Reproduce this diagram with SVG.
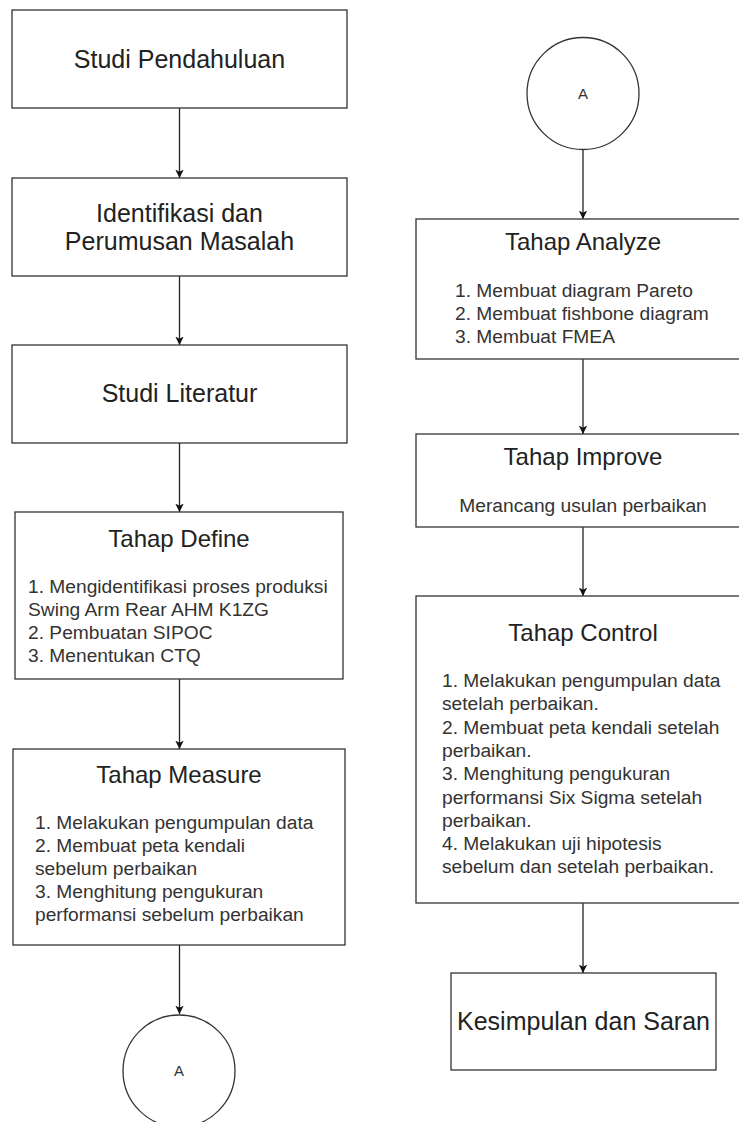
<svg xmlns="http://www.w3.org/2000/svg" width="739" height="1122" viewBox="0 0 739 1122">
<defs>
<style>
.box{fill:#fff;stroke:#333;stroke-width:1.3}
.edge{fill:none;stroke:#222;stroke-width:1.3}
.big{font-family:"Liberation Sans",Arial,sans-serif;font-size:25px;fill:#222;text-anchor:middle}
.title{font-family:"Liberation Sans",Arial,sans-serif;font-size:24px;fill:#222;text-anchor:middle}
.list{font-family:"Liberation Sans",Arial,sans-serif;font-size:19.2px;fill:#333}
.mid{text-anchor:middle}
.small{font-family:"Liberation Sans",Arial,sans-serif;font-size:15px;fill:#333;text-anchor:middle}
</style>
<marker id="arr" viewBox="0 0 10 10" refX="10" refY="5" markerWidth="6.5" markerHeight="6.5" markerUnits="strokeWidth" orient="auto">
<path d="M0,0 L10,5 L0,10 L2.5,5 Z" fill="#111"/>
</marker>
</defs>
<rect width="739" height="1122" fill="#fff"/>
<g id="connectors">
<line class="edge" x1="179.5" y1="108" x2="179.5" y2="178" marker-end="url(#arr)"/>
<line class="edge" x1="179.5" y1="276" x2="179.5" y2="345" marker-end="url(#arr)"/>
<line class="edge" x1="179.5" y1="443" x2="179.5" y2="512" marker-end="url(#arr)"/>
<line class="edge" x1="179.5" y1="679" x2="179.5" y2="749" marker-end="url(#arr)"/>
<line class="edge" x1="179.5" y1="945" x2="179.5" y2="1014" marker-end="url(#arr)"/>
<line class="edge" x1="583" y1="150" x2="583" y2="219" marker-end="url(#arr)"/>
<line class="edge" x1="583" y1="359" x2="583" y2="434" marker-end="url(#arr)"/>
<line class="edge" x1="583" y1="527" x2="583" y2="596" marker-end="url(#arr)"/>
<line class="edge" x1="583" y1="903" x2="583" y2="973" marker-end="url(#arr)"/>
</g>
<g id="studi-pendahuluan">
<rect class="box" x="12" y="10" width="335" height="98"/>
<text class="big" x="179.5" y="68">Studi Pendahuluan</text>
</g>
<g id="identifikasi">
<rect class="box" x="12" y="178" width="335" height="98"/>
<text class="big" x="179.5" y="222">Identifikasi dan</text>
<text class="big" x="179.5" y="250">Perumusan Masalah</text>
</g>
<g id="studi-literatur">
<rect class="box" x="12" y="345" width="335" height="98"/>
<text class="big" x="179.5" y="402">Studi Literatur</text>
</g>
<g id="define">
<rect class="box" x="15" y="512" width="328" height="167"/>
<text class="title" x="179" y="547">Tahap Define</text>
<text class="list" x="28" y="593">1. Mengidentifikasi proses produksi</text>
<text class="list" x="28" y="616">Swing Arm Rear AHM K1ZG</text>
<text class="list" x="28" y="639">2. Pembuatan SIPOC</text>
<text class="list" x="28" y="662">3. Menentukan CTQ</text>
</g>
<g id="measure">
<rect class="box" x="13" y="749" width="332" height="196"/>
<text class="title" x="179" y="783">Tahap Measure</text>
<text class="list" x="35" y="829">1. Melakukan pengumpulan data</text>
<text class="list" x="35" y="852">2. Membuat peta kendali</text>
<text class="list" x="35" y="875">sebelum perbaikan</text>
<text class="list" x="35" y="898">3. Menghitung pengukuran</text>
<text class="list" x="35" y="921">performansi sebelum perbaikan</text>
</g>
<g id="connector-a-out">
<circle class="box" cx="179" cy="1071" r="56"/>
<text class="small" x="179" y="1075.5">A</text>
</g>
<g id="connector-a-in">
<circle class="box" cx="583" cy="93.5" r="56"/>
<text class="small" x="583" y="99">A</text>
</g>
<g id="analyze">
<rect class="box" x="416" y="219" width="334" height="140"/>
<text class="title" x="583" y="250">Tahap Analyze</text>
<text class="list" x="455" y="297">1. Membuat diagram Pareto</text>
<text class="list" x="455" y="320">2. Membuat fishbone diagram</text>
<text class="list" x="455" y="343">3. Membuat FMEA</text>
</g>
<g id="improve">
<rect class="box" x="416" y="434" width="334" height="93"/>
<text class="title" x="583" y="465">Tahap Improve</text>
<text class="list mid" x="583" y="512">Merancang usulan perbaikan</text>
</g>
<g id="control">
<rect class="box" x="416" y="596" width="334" height="307"/>
<text class="title" x="583" y="641">Tahap Control</text>
<text class="list" x="442" y="687">1. Melakukan pengumpulan data</text>
<text class="list" x="442" y="710.3">setelah perbaikan.</text>
<text class="list" x="442" y="733.6">2. Membuat peta kendali setelah</text>
<text class="list" x="442" y="756.9">perbaikan.</text>
<text class="list" x="442" y="780.2">3. Menghitung pengukuran</text>
<text class="list" x="442" y="803.5">performansi Six Sigma setelah</text>
<text class="list" x="442" y="826.8">perbaikan.</text>
<text class="list" x="442" y="850.1">4. Melakukan uji hipotesis</text>
<text class="list" x="442" y="873.4">sebelum dan setelah perbaikan.</text>
</g>
<g id="kesimpulan">
<rect class="box" x="451" y="973" width="265" height="97"/>
<text class="big" x="583.5" y="1030">Kesimpulan dan Saran</text>
</g>
</svg>
